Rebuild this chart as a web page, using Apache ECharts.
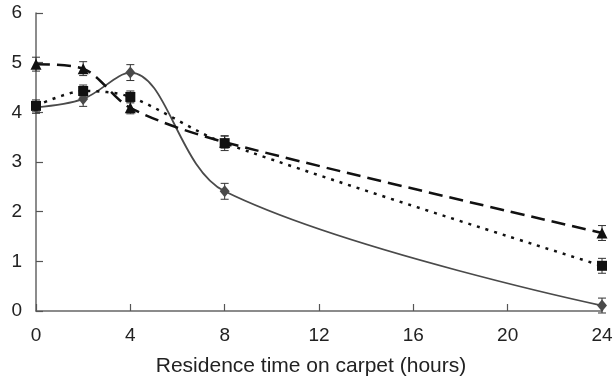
<!DOCTYPE html>
<html>
<head>
<meta charset="utf-8">
<script src="https://cdn.jsdelivr.net/npm/echarts@6/dist/echarts.min.js"></script>
<style>
  html, body { margin: 0; padding: 0; background: #fff; }
  #chart { width: 614px; height: 377px; }
</style>
</head>
<body>
<div id="chart"></div>
<script>
// hours on carpet
const hours = [0, 2, 4, 8, 24];
// series values
const diamondVals = [4.10, 4.27, 4.80, 2.41, 0.11];
const squareVals = [4.13, 4.43, 4.31, 3.38, 0.91];
const triangleVals = [4.97, 4.88, 4.09, 3.40, 1.57];
// error bar half widths
const diamondErr = [0.12, 0.15, 0.16, 0.16, 0.15];
const squareErr = [0.12, 0.12, 0.12, 0.15, 0.15];
const triangleErr = [0.14, 0.14, 0.12, 0.12, 0.15];

const toPoints = (vals) => hours.map((h, i) => [h, vals[i]]);
const toErr = (vals, err) => hours.map((h, i) => [h, vals[i] - err[i], vals[i] + err[i]]);

const errorBarSeries = (vals, err, color) => ({
    type: 'custom',
    data: toErr(vals, err),
    z: 1,
    silent: true,
    renderItem: function (params, api) {
        const lo = api.coord([api.value(0), api.value(1)]);
        const hi = api.coord([api.value(0), api.value(2)]);
        const w = 4;
        const style = { stroke: color, lineWidth: 1 };
        return {
            type: 'group',
            children: [
                { type: 'line', shape: { x1: lo[0], y1: lo[1], x2: hi[0], y2: hi[1] }, style: style },
                { type: 'line', shape: { x1: lo[0] - w, y1: lo[1], x2: lo[0] + w, y2: lo[1] }, style: style },
                { type: 'line', shape: { x1: hi[0] - w, y1: hi[1], x2: hi[0] + w, y2: hi[1] }, style: style }
            ]
        };
    }
});

const axisFont = { fontFamily: 'Liberation Sans', fontSize: 19, color: '#222' };

const myChart = echarts.init(document.getElementById('chart'));
myChart.setOption({
    animation: false,
    grid: { left: 36, right: 12, top: 13, bottom: 66, containLabel: false, outerBoundsMode: 'none' },
    xAxis: {
        type: 'value',
        min: 0,
        max: 24,
        interval: 4,
        name: 'Residence time on carpet (hours)',
        nameLocation: 'middle',
        nameGap: 45,
        nameTextStyle: { fontFamily: 'Liberation Sans', fontSize: 21, color: '#222', padding: [0, 16, 0, 0] },
        axisLine: { lineStyle: { color: '#666', width: 1.5 } },
        axisTick: { inside: true, length: 7, lineStyle: { color: '#555', width: 1.2 } },
        axisLabel: Object.assign({ margin: 15 }, axisFont),
        splitLine: { show: false }
    },
    yAxis: {
        type: 'value',
        min: 0,
        max: 6,
        interval: 1,
        axisLine: { show: true, lineStyle: { color: '#666', width: 1.5 } },
        axisTick: { show: true, inside: true, length: 7, lineStyle: { color: '#555', width: 1.2 } },
        axisLabel: Object.assign({ margin: 14 }, axisFont),
        splitLine: { show: false }
    },
    series: [
        errorBarSeries(diamondVals, diamondErr, '#333'),
        errorBarSeries(squareVals, squareErr, '#333'),
        errorBarSeries(triangleVals, triangleErr, '#333'),
        {
            type: 'line',
            data: toPoints(diamondVals),
            smooth: 0.35,
            symbol: 'diamond',
            symbolSize: [10, 12],
            z: 3,
            lineStyle: { color: '#4a4a4a', width: 1.8 },
            itemStyle: { color: '#4a4a4a' }
        },
        {
            type: 'line',
            data: toPoints(squareVals),
            smooth: 0.3,
            symbol: 'rect',
            symbolSize: 10,
            z: 4,
            lineStyle: { color: '#111', width: 2.5, type: [3, 6] },
            itemStyle: { color: '#111' }
        },
        {
            type: 'line',
            data: toPoints(triangleVals),
            smooth: 0.3,
            symbol: 'triangle',
            symbolSize: 11,
            z: 5,
            lineStyle: { color: '#111', width: 2.5, type: [14, 7] },
            itemStyle: { color: '#111' }
        }
    ]
});
</script>
</body>
</html>
